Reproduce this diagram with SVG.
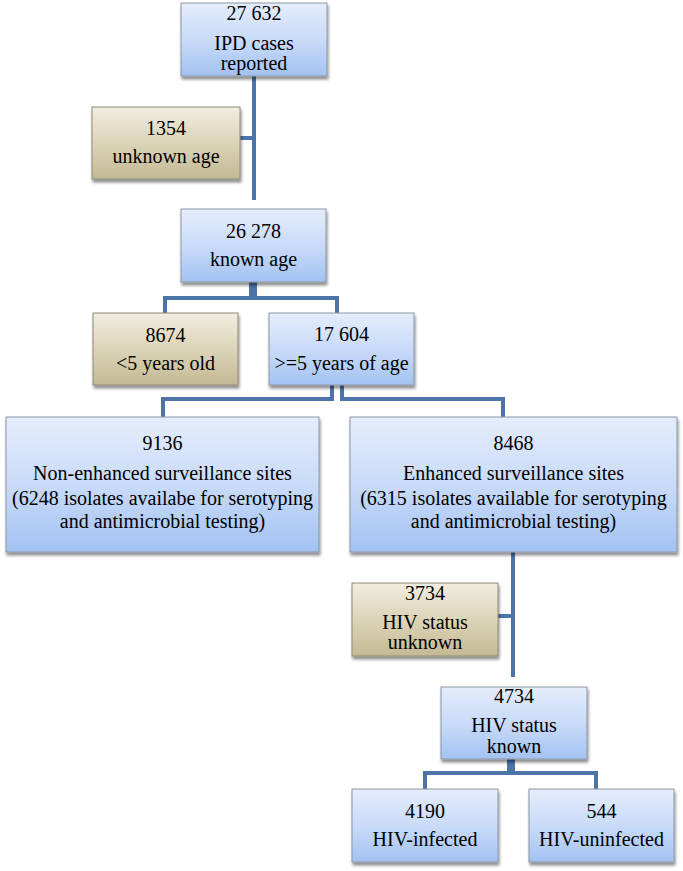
<svg xmlns="http://www.w3.org/2000/svg" width="683" height="871" viewBox="0 0 683 871">
<style>
  .blue { fill: url(#gBlue); stroke: #8d96a6; stroke-width: 1; filter: url(#sh); }
  .tan { fill: url(#gTan); stroke: #8f8a78; stroke-width: 1; filter: url(#sh); }
  .t { font-size: 20px; fill: #000; text-anchor: middle; }
  .conn { fill: none; stroke: #4c74a8; stroke-width: 4; }
</style>
<defs>
  <linearGradient id="gBlue" x1="0" y1="0" x2="0" y2="1">
    <stop offset="0" stop-color="#e4edfc"/>
    <stop offset="0.5" stop-color="#c9dbf8"/>
    <stop offset="1" stop-color="#a3c2f2"/>
  </linearGradient>
  <linearGradient id="gTan" x1="0" y1="0" x2="0" y2="1">
    <stop offset="0" stop-color="#f1ede0"/>
    <stop offset="0.5" stop-color="#dcd4b8"/>
    <stop offset="1" stop-color="#c4b995"/>
  </linearGradient>
  <filter id="sh" x="-10%" y="-10%" width="125%" height="130%">
    <feGaussianBlur in="SourceAlpha" stdDeviation="1.5"/>
    <feOffset dx="1" dy="2.5" result="b"/>
    <feComponentTransfer><feFuncA type="linear" slope="0.45"/></feComponentTransfer>
    <feMerge><feMergeNode/><feMergeNode in="SourceGraphic"/></feMerge>
  </filter>
</defs>

<g id="connectors">
  <path class="conn" d="M254,76 V200"/>
  <path class="conn" d="M240,138 H254"/>
  <path class="conn" d="M251,282 V298 H165 V313"/>
  <path class="conn" d="M255,282 V298 H337 V313"/>
  <path class="conn" d="M332,385 V399 H163 V417"/>
  <path class="conn" d="M342,385 V399 H503 V417"/>
  <path class="conn" d="M513,552 V677"/>
  <path class="conn" d="M498,616 H513"/>
  <path class="conn" d="M509,759 V773 H425 V789"/>
  <path class="conn" d="M513,759 V773 H596 V789"/>
</g>

<g font-family="'Liberation Serif', 'Times New Roman', Times, 'DejaVu Serif', serif">
<g id="n1">
  <rect class="blue" x="181" y="3" width="146" height="73"/>
  <text class="t" x="254" y="20">27 632</text>
  <text class="t" x="254" y="50">IPD cases</text>
  <text class="t" x="254" y="70">reported</text>
</g>
<g id="n2">
  <rect class="tan" x="92" y="107" width="148" height="72"/>
  <text class="t" x="166" y="135">1354</text>
  <text class="t" x="166" y="163">unknown age</text>
</g>
<g id="n3">
  <rect class="blue" x="181" y="209" width="145" height="73"/>
  <text class="t" x="253.5" y="238">26 278</text>
  <text class="t" x="253.5" y="266">known age</text>
</g>
<g id="n4">
  <rect class="tan" x="93" y="313" width="145" height="72"/>
  <text class="t" x="165.5" y="342">8674</text>
  <text class="t" x="165.5" y="370">&lt;5 years old</text>
</g>
<g id="n5">
  <rect class="blue" x="269" y="313" width="145" height="72"/>
  <text class="t" x="341.5" y="341">17 604</text>
  <text class="t" x="341.5" y="370">&gt;=5 years of age</text>
</g>
<g id="n6">
  <rect class="blue" x="6" y="417" width="313" height="135"/>
  <text class="t" x="162.5" y="450">9136</text>
  <text class="t" x="162.5" y="480">Non-enhanced surveillance sites</text>
  <text class="t" x="162.5" y="505">(6248 isolates availabe for serotyping</text>
  <text class="t" x="162.5" y="528">and antimicrobial testing)</text>
</g>
<g id="n7">
  <rect class="blue" x="350" y="417" width="327" height="135"/>
  <text class="t" x="513.5" y="450">8468</text>
  <text class="t" x="513.5" y="480">Enhanced surveillance sites</text>
  <text class="t" x="513.5" y="505">(6315 isolates available for serotyping</text>
  <text class="t" x="513.5" y="528">and antimicrobial testing)</text>
</g>
<g id="n8">
  <rect class="tan" x="352" y="583" width="146" height="73"/>
  <text class="t" x="425" y="600">3734</text>
  <text class="t" x="425" y="629">HIV status</text>
  <text class="t" x="425" y="649">unknown</text>
</g>
<g id="n9">
  <rect class="blue" x="441" y="687" width="146" height="72"/>
  <text class="t" x="514" y="703">4734</text>
  <text class="t" x="514" y="732">HIV status</text>
  <text class="t" x="514" y="753">known</text>
</g>
<g id="n10">
  <rect class="blue" x="352" y="789" width="146" height="73"/>
  <text class="t" x="425" y="818">4190</text>
  <text class="t" x="425" y="846">HIV-infected</text>
</g>
<g id="n11">
  <rect class="blue" x="529" y="789" width="145" height="73"/>
  <text class="t" x="601.5" y="818">544</text>
  <text class="t" x="601.5" y="846">HIV-uninfected</text>
</g>
</g>
</svg>
